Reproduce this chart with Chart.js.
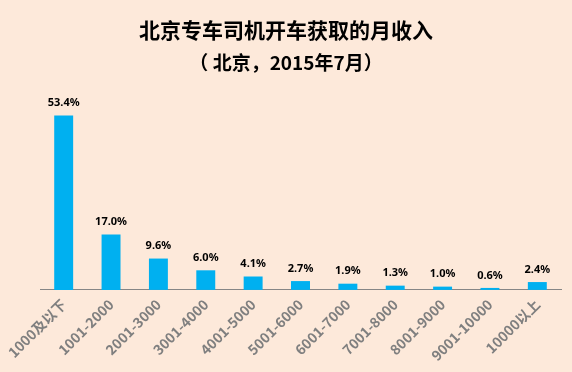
<!DOCTYPE html>
<html>
<head>
<meta charset="utf-8">
<script src="https://cdn.jsdelivr.net/npm/chart.js@4"></script>
<style>
  html, body { margin: 0; padding: 0; background: #FDE9DA; }
  #wrap { width: 572px; height: 372px; }
</style>
</head>
<body>
<div id="wrap"><canvas id="chart"></canvas></div>
<script>
// income bands (yuan / month) and share of drivers (%)
const incomeBands = ['1000及以下', '1001-2000', '2001-3000', '3001-4000', '4001-5000', '5001-6000',
  '6001-7000', '7001-8000', '8001-9000', '9001-10000', '10000以上'];
const driverShare = [53.4, 17.0, 9.6, 6.0, 4.1, 2.7, 1.9, 1.3, 1.0, 0.6, 2.4];

const titleText = '北京专车司机开车获取的月收入';
const subtitleText = '（ 北京，2015年7月）';

// simple value labels on top of each bar
const barLabels = {
  id: 'barLabels',
  afterDatasetsDraw(chart) {
    const ctx = chart.ctx;
    const meta = chart.getDatasetMeta(0);
    ctx.save();
    ctx.fillStyle = '#000';
    ctx.font = 'bold 11px "Noto Sans", sans-serif';
    ctx.textAlign = 'center';
    ctx.textBaseline = 'bottom';
    meta.data.forEach((bar, i) => {
      ctx.fillText(driverShare[i].toFixed(1) + '%', bar.x, bar.y - 7);
    });
    ctx.restore();
  }
};

new Chart(document.getElementById('chart'), {
  type: 'bar',
  data: {
    labels: incomeBands,
    datasets: [{
      data: driverShare,
      backgroundColor: '#00B0F0',
      categoryPercentage: 1,
      barPercentage: 0.4
    }]
  },
  options: {
    responsive: true,
    maintainAspectRatio: false,
    animation: false,
    layout: { padding: { left: 0, right: 0, top: 0, bottom: 2 } },
    plugins: {
      legend: { display: false },
      tooltip: { enabled: false },
      title: {
        display: true,
        text: titleText,
        color: '#000',
        font: { family: '"Noto Sans CJK SC", sans-serif', size: 21, weight: 'bold' },
        padding: { top: 17, bottom: 9 }
      },
      subtitle: {
        display: true,
        text: subtitleText,
        color: '#000',
        font: { family: '"Noto Sans CJK SC", sans-serif', size: 19, weight: 'bold' },
        padding: { top: 0, bottom: 20 }
      }
    },
    scales: {
      x: {
        // keep the plot between x=40 and x=561 like the original
        afterFit(scale) {
          scale.paddingLeft = 40;
          scale.paddingRight = 11;
        },
        grid: { display: true, drawOnChartArea: false, drawTicks: false },
        border: { display: true, color: '#868686', width: 1 },
        ticks: {
          color: '#7F7F7F',
          minRotation: 45,
          maxRotation: 45,
          padding: 6,
          font: { family: '"Noto Sans CJK SC", sans-serif', size: 14, weight: 'bold' }
        }
      },
      y: {
        display: false,
        min: 0,
        max: 60
      }
    }
  },
  plugins: [barLabels]
});
</script>
</body>
</html>
